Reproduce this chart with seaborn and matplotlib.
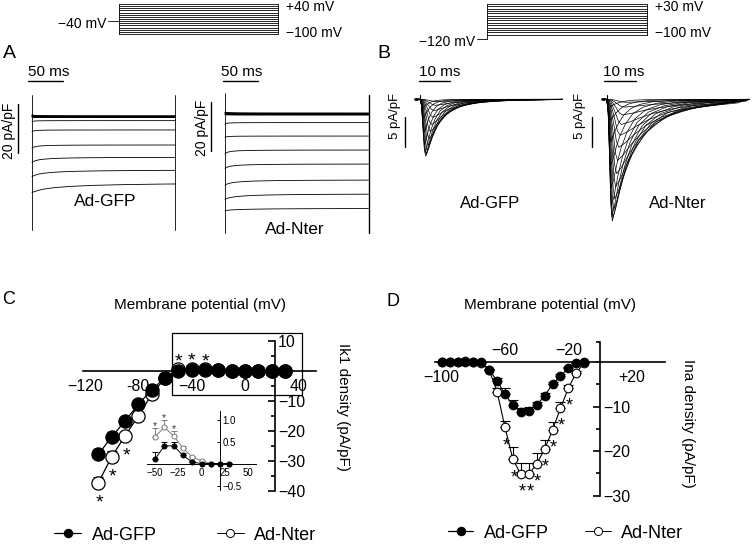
import numpy as np
import matplotlib
matplotlib.use("Agg")
import matplotlib.pyplot as plt
import seaborn as sns
from matplotlib.patches import Rectangle
from matplotlib.lines import Line2D
from matplotlib.ticker import FixedLocator

sns.set_style("white")
plt.rcParams["font.family"] = ["Liberation Sans", "DejaVu Sans"]
plt.rcParams["axes.facecolor"] = "none"
plt.rcParams["text.color"] = "black"
plt.rcParams["axes.edgecolor"] = "black"
plt.rcParams["xtick.color"] = "black"
plt.rcParams["ytick.color"] = "black"
plt.rcParams["axes.unicode_minus"] = True

# ------------------------------------------------------------------ data
# Panel A: IK1 voltage protocol and representative traces
a_prot_levels = list(range(-100, 41, 10))
a_hold = -40
a_pulse_ms = 205
a_gfp_steady = [0.6, 0.5, 0.4, 0.3, 0.2, 0.1, 0.05, 0.0, 0.0, -1.36, -5.17, -11.3, -16.3, -21.5, -26.7]
a_gfp_initial = [1.0, 0.9, 0.8, 0.6, 0.5, 0.3, 0.2, 0.1, 0.0, -1.8, -5.85, -12.65, -18.4, -24.2, -30.7]
a_gfp_tscale = [1, 1, 1, 1, 1, 1, 1, 1, 1, 0.6, 0.8, 1.2, 2.5, 4.0, 8.0]
a_nter_steady = [0.8, 0.7, 0.6, 0.5, 0.3, 0.2, 0.1, 0.0, -3.1, -8.6, -14.3, -20.0, -26.5, -32.2, -38.1]
a_nter_initial = [1.2, 1.0, 0.9, 0.7, 0.5, 0.3, 0.2, 0.1, -3.7, -9.1, -15.9, -21.8, -28.6, -34.4, -39.0]
a_nter_tscale = [1, 1, 1, 1, 1, 1, 1, 1, 0.6, 0.8, 1.2, 2.0, 3.0, 4.0, 6.0]
a_decay_t = [0, 1, 2, 4, 7, 11, 16, 23, 32, 45, 65, 95, 140, 200, 300]
a_decay_f = [1, 0.8, 0.66, 0.5, 0.37, 0.27, 0.2, 0.14, 0.1, 0.065, 0.04, 0.022, 0.01, 0.004, 0]

# Panel B: INa protocol and representative traces
b_prot_levels = list(range(-100, 31, 10))
b_hold = -120
b_gfp_peak = [-0.4, -1.0, -1.9, -3.0, -4.2, -5.4, -6.6, -7.6, -8.5, -9.2, -9.5, -9.0, -7.6, -5.5, -3.2, -1.4]
b_gfp_tp = [5.5, 5.0, 4.6, 4.2, 3.8, 3.4, 3.0, 2.7, 2.4, 2.1, 1.85, 1.65, 1.5, 1.35, 1.2, 1.1]
b_nter_peak = [-0.5, -1.3, -2.6, -4.2, -6.0, -8.0, -10.2, -12.4, -14.6, -16.6, -18.4, -19.7,
               -20.3, -19.6, -17.8, -14.8, -11.0, -7.0, -3.5, -1.2]
b_nter_tp = [6.0, 5.5, 5.0, 4.6, 4.2, 3.8, 3.4, 3.1, 2.8, 2.5, 2.2, 1.95, 1.75, 1.6, 1.5, 1.4,
             1.3, 1.2, 1.1, 1.0]
b_shape_u = [0, 0.3, 0.6, 0.8, 1.0, 1.25, 1.6, 2.0, 2.6, 3.4, 4.5, 6, 8, 11, 16, 25]
b_shape_s = [0, 0.12, 0.55, 0.88, 1.0, 0.9, 0.72, 0.55, 0.37, 0.22, 0.12, 0.06, 0.028, 0.011, 0.004, 0]

# Panel C: IK1 density I-V
c_voltage = [-110, -100, -90, -80, -70, -60, -50, -40, -30, -20, -10, 0, 10, 20, 30]
c_gfp = [-27.8, -21.9, -16.7, -11.1, -6.3, -2.2, 0.10, 0.40, 0.40, 0.19, 0.03, 0.0, 0.0, 0.0, 0.0]
c_gfp_sem = [1.7, 1.7, 1.0, 0.8, 0.6, 0.4, 0.17, 0.10, 0.10, 0.05, 0.03, 0.02, 0.02, 0.02, 0.02]
c_nter = [-37.2, -28.6, -21.6, -15.0, -7.8, -2.4, 0.61, 0.82, 0.63, 0.35, 0.15, 0.06, 0.0, 0.0, 0.0]
c_nter_sem = [2.0, 1.9, 1.2, 1.0, 0.7, 0.4, 0.19, 0.17, 0.10, 0.05, 0.03, 0.02, 0.02, 0.02, 0.02]
c_sig_below = [-110, -100, -90]
c_sig_above = [-50, -40, -30]
c_xticks = [-120, -80, -40, 0, 40]
c_xticklabels = ["\u2212120", "-80", "\u221240", "0", "40"]
c_yticks = [-40, -30, -20, -10, 10]
c_yticklabels = ["\u221240", "\u221230", "\u221220", "\u221210", "10"]
inset_xticks = [-50, -25, 0, 25, 50]
inset_xticklabels = ["\u221250", "\u221225", "0", "25", "50"]
inset_yticks = [-0.5, 0.5, 1.0]
inset_yticklabels = ["\u22120.5", "0.5", "1.0"]

# Panel D: INa density I-V
d_voltage = [-100, -95, -90, -85, -80, -75, -70, -65, -60, -55, -50, -45, -40, -35, -30, -25, -20, -15, -10]
d_gfp = [0, 0, 0, 0, 0, 0, -1.8, -4.2, -7.3, -9.7, -11.2, -11.0, -9.7, -7.6, -5.0, -3.1, -1.4, -0.3, 0.0]
d_gfp_sem = [0, 0, 0, 0, 0, 0.1, 0.3, 0.5, 1.5, 1.1, 0.8, 0.8, 0.7, 0.6, 0.5, 0.4, 0.3, 0.1, 0]
d_nter = [0, 0, 0, 0.3, 0, -0.2, -1.8, -6.7, -14.7, -21.9, -25.2, -25.2, -22.9, -19.6, -15.3, -10.4, -5.9, -2.4, -0.2]
d_nter_sem = [0, 0, 0, 0, 0, 0.1, 0.3, 0.8, 1.5, 2.85, 2.55, 2.55, 2.4, 2.1, 1.9, 1.5, 0.75, 0.4, 0]
d_sig = [-60, -55, -50, -45, -40, -35, -30, -25, -20]
d_xticks_below = [-100, 20]
d_xticklabels_below = ["\u2212100", "+20"]
d_xticks_above = [-60, -20]
d_xticklabels_above = ["\u221260", "\u221220"]
d_yticks = [-30, -20, -10]
d_yticklabels = ["\u221230", "\u221220", "\u221210"]

groups = ["Ad-GFP", "Ad-Nter"]

# ------------------------------------------------------------------ figure
W, H = 752, 544
fig = plt.figure(figsize=(W / 100, H / 100), dpi=100)

ov = fig.add_axes([0, 0, 1, 1])
ov.set_xlim(0, W)
ov.set_ylim(H, 0)
ov.axis("off")


def px_axes(l, t, r, b):
    return fig.add_axes([l / W, 1 - b / H, (r - l) / W, (b - t) / H])


def set_map(ax, l, t, r, b, x0, xs, y0, ys):
    ax.set_xlim((l - x0) / xs, (r - x0) / xs)
    ax.set_ylim((y0 - b) / ys, (y0 - t) / ys)


K = "black"

# ---------------- protocols
box = (100, 0, 300, 46)
axp = px_axes(*box)
for v in a_prot_levels:
    axp.plot([0, 200], [v, v], color=K, lw=0.6)
axp.plot([0, 0], [min(a_prot_levels), max(a_prot_levels)], color=K, lw=0.6)
axp.plot([200, 200], [min(a_prot_levels), max(a_prot_levels)], color=K, lw=0.6)
axp.plot([-14, 0], [a_hold, a_hold], color=K, lw=0.6)
set_map(axp, *box, 119, 0.795, 12.6, 0.2143)
axp.axis("off")

box = (470, 0, 665, 46)
axq = px_axes(*box)
for v in b_prot_levels:
    axq.plot([0, 200], [v, v], color=K, lw=0.6)
axq.plot([0, 0], [b_hold, max(b_prot_levels)], color=K, lw=0.6)
axq.plot([200, 200], [min(b_prot_levels), max(b_prot_levels)], color=K, lw=0.6)
axq.plot([-13.4, 0], [b_hold, b_hold], color=K, lw=0.6)
set_map(axq, *box, 487.3, 0.797, 11.0, 0.236)
axq.axis("off")

# ---------------- panel A traces
def ik1_traces(ax, steady, initial, tscale, end):
    for s, i0, sc in zip(steady, initial, tscale):
        t = np.array(a_decay_t) * sc
        f = np.array(a_decay_f)
        keep = t < end
        t = np.append(t[keep], end)
        f = np.append(f[keep], np.interp(end / sc, a_decay_t, a_decay_f))
        ax.plot(t, s + (i0 - s) * f, color=K, lw=0.6)


box = (0, 60, 195, 240)
axa1 = px_axes(*box)
ik1_traces(axa1, a_gfp_steady, a_gfp_initial, a_gfp_tscale, a_pulse_ms)
axa1.plot([0, 0], [-46, 9], color=K, lw=0.6)
axa1.plot([a_pulse_ms, a_pulse_ms], [-46, 9], color=K, lw=0.6)
axa1.plot([-5.7, 44.3], [14.8, 14.8], color=K, lw=1.0)
axa1.plot([-20, -20], [5.4, -14.6], color=K, lw=1.0)
set_map(axa1, *box, 32, 0.70, 117.3, 2.45)
axa1.axis("off")

box = (195, 60, 385, 240)
axa2 = px_axes(*box)
ik1_traces(axa2, a_nter_steady, a_nter_initial, a_nter_tscale, a_pulse_ms)
axa2.plot([0, 0], [-48, 9], color=K, lw=0.6)
axa2.plot([a_pulse_ms, a_pulse_ms], [-48, 8], color=K, lw=1.0)
axa2.plot([-2.9, 47.1], [13.9, 13.9], color=K, lw=1.0)
axa2.plot([-20, -20], [5.3, -14.7], color=K, lw=1.0)
set_map(axa2, *box, 225, 0.70, 115, 2.45)
axa2.axis("off")

# ---------------- panel B traces
def na_traces(ax, peaks, tps, k, end):
    u = np.array(b_shape_u)
    s = np.array(b_shape_s)
    for p, tp in zip(peaks, tps):
        t = np.where(u <= 1, u * tp, tp + (u - 1) * tp * k)
        keep = t < end
        tt = np.concatenate([[-1.3], t[keep], [end]])
        yy = np.concatenate([[0], p * s[keep], [0]])
        ax.plot(tt, yy, color=K, lw=0.5)
    ax.plot([0, 0], [0, 0.8], color=K, lw=0.8)
    ax.plot([-1.6, -1.0], [0.1, 0.1], color=K, lw=2.0)


box = (380, 60, 570, 240)
axb1 = px_axes(*box)
na_traces(axb1, b_gfp_peak, b_gfp_tp, 1.2, 46)
axb1.plot([-0.3, 9.7], [3.05, 3.05], color=K, lw=1.0)
axb1.plot([-4.8, -4.8], [-2.95, -7.95], color=K, lw=1.0)
set_map(axb1, *box, 420, 3.1, 99.3, 6.0)
axb1.axis("off")

box = (570, 60, 752, 240)
axb2 = px_axes(*box)
na_traces(axb2, b_nter_peak, b_nter_tp, 2.2, 44.5)
axb2.plot([-0.84, 9.16], [3.05, 3.05], color=K, lw=1.0)
axb2.plot([-4.7, -4.7], [-2.95, -7.95], color=K, lw=1.0)
set_map(axb2, *box, 606.7, 3.2, 99.3, 6.0)
axb2.axis("off")


# ---------------- helpers for I-V plots
def star(ax, x, y, d_px, fs, dx_px=0.0, color=K):
    fs_px = fs * 100 / 72
    off = (d_px - 0.56 * fs_px) * 0.72
    ax.annotate("*", xy=(x, y), xytext=(dx_px * 0.72, off), textcoords="offset points",
                ha="center", va="baseline", fontsize=fs, color=color)


def iv_series(ax, x, y, sem, filled, ms, lw, color=K, capsize=3.5, z=3):
    ax.errorbar(x, y, yerr=[np.zeros(len(sem)), sem], fmt="none", ecolor=color,
                elinewidth=lw, capsize=capsize, capthick=lw, zorder=z - 1)
    sns.lineplot(x=x, y=y, ax=ax, color=color, lw=lw, marker="o", markersize=ms,
                 markerfacecolor=color if filled else "white", markeredgecolor=color,
                 markeredgewidth=lw, zorder=z)


# ---------------- panel C
box = (60, 318, 330, 505)
axc = px_axes(*box)
iv_series(axc, c_voltage, c_nter, c_nter_sem, False, 9.5, 0.9, z=3)
iv_series(axc, c_voltage, c_gfp, c_gfp_sem, True, 9.5, 0.9, z=5)
for v in c_sig_below:
    star(axc, v, c_nter[c_voltage.index(v)], -14, 14, dx_px=1)
for v in c_sig_above:
    star(axc, v, c_nter[c_voltage.index(v)], 14, 14)
axc.add_patch(Rectangle((-55, -8), 98, 20.7, fill=False, lw=0.9, ec=K, zorder=1))
set_map(axc, *box, 245, 1.333, 371, 3.0)
axc.spines["top"].set_visible(False)
axc.spines["left"].set_visible(False)
axc.spines["right"].set_position(("data", 22.5))
axc.spines["bottom"].set_position(("data", 0))
axc.spines["right"].set_bounds(-40, 10)
axc.spines["bottom"].set_bounds(-121.5, 53)
for s in ("right", "bottom"):
    axc.spines[s].set_linewidth(1.2)
axc.yaxis.set_ticks_position("right")
axc.set_yticks(c_yticks)
axc.set_yticklabels(c_yticklabels)
axc.yaxis.set_minor_locator(FixedLocator([-35, -25, -15, -5, 0, 5]))
axc.tick_params(axis="y", which="major", direction="in", length=5, width=1.2, pad=2,
                labelsize=11.5, right=True, left=False, labelright=True, labelleft=False)
axc.tick_params(axis="y", which="minor", direction="in", length=3, width=1.2, right=True, left=False)
axc.set_xticks(c_xticks)
axc.set_xticklabels(c_xticklabels)
axc.tick_params(axis="x", length=0, pad=6, labelsize=11.5, bottom=True)
axc.set_xlabel("")
axc.set_ylabel("")

# inset
box = (138, 405, 265, 500)
axi = px_axes(*box)
n0 = c_voltage.index(-50)
iv_series(axi, c_voltage[n0:], c_nter[n0:], c_nter_sem[n0:], False, 3.6, 0.7, color="#7a7a7a", capsize=2, z=3)
iv_series(axi, c_voltage[n0:], c_gfp[n0:], c_gfp_sem[n0:], True, 3.6, 0.7, capsize=2, z=5)
for v in c_sig_above:
    j = c_voltage.index(v)
    star(axi, v, c_nter[j] + c_nter_sem[j], 5, 7.5, color="#333333")
set_map(axi, *box, 201.5, 0.93, 463.5, 44.0)
axi.spines["top"].set_visible(False)
axi.spines["left"].set_visible(False)
axi.spines["right"].set_position(("data", 20))
axi.spines["bottom"].set_position(("data", 0))
axi.spines["right"].set_bounds(-0.6, 1.2)
axi.spines["bottom"].set_bounds(-59, 59)
for s in ("right", "bottom"):
    axi.spines[s].set_linewidth(0.7)
axi.yaxis.set_ticks_position("right")
axi.set_yticks(inset_yticks)
axi.set_yticklabels(inset_yticklabels)
axi.yaxis.set_minor_locator(FixedLocator([0.0]))
axi.tick_params(axis="y", which="both", direction="in", length=2.5, width=0.7, pad=1.5,
                labelsize=7, right=True, left=False, labelright=True, labelleft=False)
axi.set_xticks(inset_xticks)
axi.set_xticklabels(inset_xticklabels)
axi.tick_params(axis="x", length=0, pad=3, labelsize=7)
axi.set_xlabel("")
axi.set_ylabel("")

# ---------------- panel D
box = (420, 335, 700, 505)
axd = px_axes(*box)
iv_series(axd, d_voltage, d_nter, d_nter_sem, False, 6.2, 0.8, z=3)
iv_series(axd, d_voltage, d_gfp, d_gfp_sem, True, 6.2, 0.8, z=5)
for v in d_sig:
    star(axd, v, d_nter[d_voltage.index(v)], -12.5, 13, dx_px=1)
set_map(axd, *box, 600, 1.583, 362, 4.45)
axd.spines["top"].set_visible(False)
axd.spines["left"].set_visible(False)
axd.spines["right"].set_position(("data", 0))
axd.spines["bottom"].set_position(("data", 0))
axd.spines["right"].set_bounds(-30, 4.6)
axd.spines["bottom"].set_bounds(-104, 41)
for s in ("right", "bottom"):
    axd.spines[s].set_linewidth(1.2)
axd.yaxis.set_ticks_position("right")
axd.set_yticks(d_yticks)
axd.set_yticklabels(d_yticklabels)
axd.yaxis.set_minor_locator(FixedLocator([-25, -15, -5, 0, 4.6]))
axd.tick_params(axis="y", which="major", direction="in", length=5, width=1.2, pad=2,
                labelsize=11.5, right=True, left=False, labelright=True, labelleft=False)
axd.tick_params(axis="y", which="minor", direction="in", length=3, width=1.2, right=True, left=False)
axd.set_xticks(d_xticks_below)
axd.set_xticklabels(d_xticklabels_below)
axd.tick_params(axis="x", length=0, pad=6, labelsize=11.5, bottom=True)
axd.set_xlabel("")
axd.set_ylabel("")
ylo, yhi = axd.get_ylim()
sec = axd.secondary_xaxis((0 - ylo) / (yhi - ylo))
sec.set_xticks(d_xticks_above)
sec.set_xticklabels(d_xticklabels_above)
sec.tick_params(length=0, pad=3, labelsize=11.5)
for s in sec.spines.values():
    s.set_visible(False)

# ---------------- legends
def legend_handles(ms):
    return [Line2D([], [], color=K, lw=0.9, marker="o", markersize=ms, markerfacecolor=K),
            Line2D([], [], color=K, lw=0.7, marker="o", markersize=ms, markerfacecolor="white",
                   markeredgewidth=0.7)]


ov.legend(legend_handles(5.8), groups, loc="center left", bbox_to_anchor=(54 / W, 1 - 535 / H),
          bbox_transform=fig.transFigure, frameon=False, ncol=2, handlelength=1.5,
          handletextpad=0.6, columnspacing=3.3, borderpad=0, borderaxespad=0, fontsize=13)
ax_leg = fig.add_axes([0, 0, 0.01, 0.01])
ax_leg.axis("off")
ax_leg.legend(legend_handles(5.8), groups, loc="center left", bbox_to_anchor=(448 / W, 1 - 533 / H),
              bbox_transform=fig.transFigure, frameon=False, ncol=2, handlelength=1.4,
              handletextpad=0.6, columnspacing=2.0, borderpad=0, borderaxespad=0, fontsize=13)

# ---------------- texts
T = dict(ha="center", va="center")
ov.text(3, 53, "A", ha="left", va="center", fontsize=14)
ov.text(377, 53, "B", ha="left", va="center", fontsize=14)
ov.text(2, 299, "C", ha="left", va="center", fontsize=13)
ov.text(386, 302, "D", ha="left", va="center", fontsize=13)

ov.text(106, 24, "\u221240 mV", ha="right", va="center", fontsize=10)
ov.text(286, 7, "+40 mV", ha="left", va="center", fontsize=10)
ov.text(286, 33, "\u2212100 mV", ha="left", va="center", fontsize=10)
ov.text(475, 42, "\u2212120 mV", ha="right", va="center", fontsize=10)
ov.text(655, 7, "+30 mV", ha="left", va="center", fontsize=10)
ov.text(655, 33, "\u2212100 mV", ha="left", va="center", fontsize=10)

ov.text(49, 72, "50 ms", fontsize=11, **T)
ov.text(242, 72, "50 ms", fontsize=11, **T)
ov.text(9, 131, "20 pA/pF", rotation=90, fontsize=10, **T)
ov.text(202, 128, "20 pA/pF", rotation=90, fontsize=10, **T)
ov.text(440, 72, "10 ms", fontsize=11, **T)
ov.text(624, 72, "10 ms", fontsize=11, **T)
ov.text(395, 116, "5 pA/pF", rotation=90, fontsize=9.5, **T)
ov.text(580, 116, "5 pA/pF", rotation=90, fontsize=9.5, **T)
ov.text(105, 202, "Ad-GFP", fontsize=12.5, **T)
ov.text(295, 229, "Ad-Nter", fontsize=12.5, **T)
ov.text(490, 203, "Ad-GFP", fontsize=12, **T)
ov.text(678, 203, "Ad-Nter", fontsize=12, **T)

ov.text(200, 305, "Membrane potential (mV)", fontsize=11, **T)
ov.text(550, 305, "Membrane potential (mV)", fontsize=11, **T)
ov.text(343, 407, "Ik1 density (pA/pF)", rotation=270, fontsize=11, **T)
ov.text(688, 423, "Ina density (pA/pF)", rotation=270, fontsize=11, **T)

fig.savefig("out.png", dpi=100)
